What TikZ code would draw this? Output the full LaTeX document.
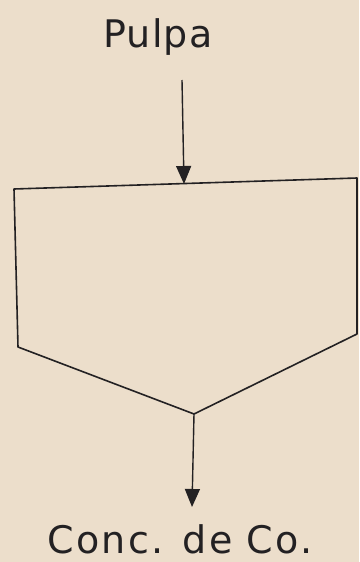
\documentclass[tikz,border=0pt]{standalone}
\usepackage{fontspec}
\setmainfont{DejaVu Sans}
\usetikzlibrary{arrows.meta}
\definecolor{paper}{RGB}{236,222,203}
\definecolor{ink}{RGB}{35,33,35}
\tikzset{
  lbl/.style={inner sep=0pt, anchor=base, text=ink, font=\fontsize{38}{40}\selectfont},
  flow/.style={draw=ink, line width=1.4pt, -{Triangle[width=15pt,length=18pt]}},
  vessel/.style={draw=ink, line width=1.6pt, line join=round},
}
\begin{document}
\begin{tikzpicture}[x=1pt,y=1pt]
\fill[paper] (0,0) rectangle (359,-562);
\useasboundingbox (0,0) rectangle (359,-562);
% texts
\node[lbl] (pulpa) at (158,-47) {\addfontfeatures{LetterSpace=3}Pulpa};
\node[lbl] (conc) at (180,-553) {\addfontfeatures{LetterSpace=6}Conc. de Co.};
% vessel
\coordinate (tl) at (14,-189);
\coordinate (tr) at (357,-178);
\coordinate (rb) at (357,-334);
\coordinate (bot) at (194,-414);
\coordinate (lb) at (18,-347);
\draw[vessel] (tl) -- (tr) -- (rb) -- (bot) -- (lb) -- cycle;
% connectors
\coordinate (top) at (182,-80);
\coordinate (in) at (184,-184);
\draw[flow] (top) -- (in);
\coordinate (outend) at (192,-507);
\draw[flow] (bot) -- (outend);
\end{tikzpicture}
\end{document}
